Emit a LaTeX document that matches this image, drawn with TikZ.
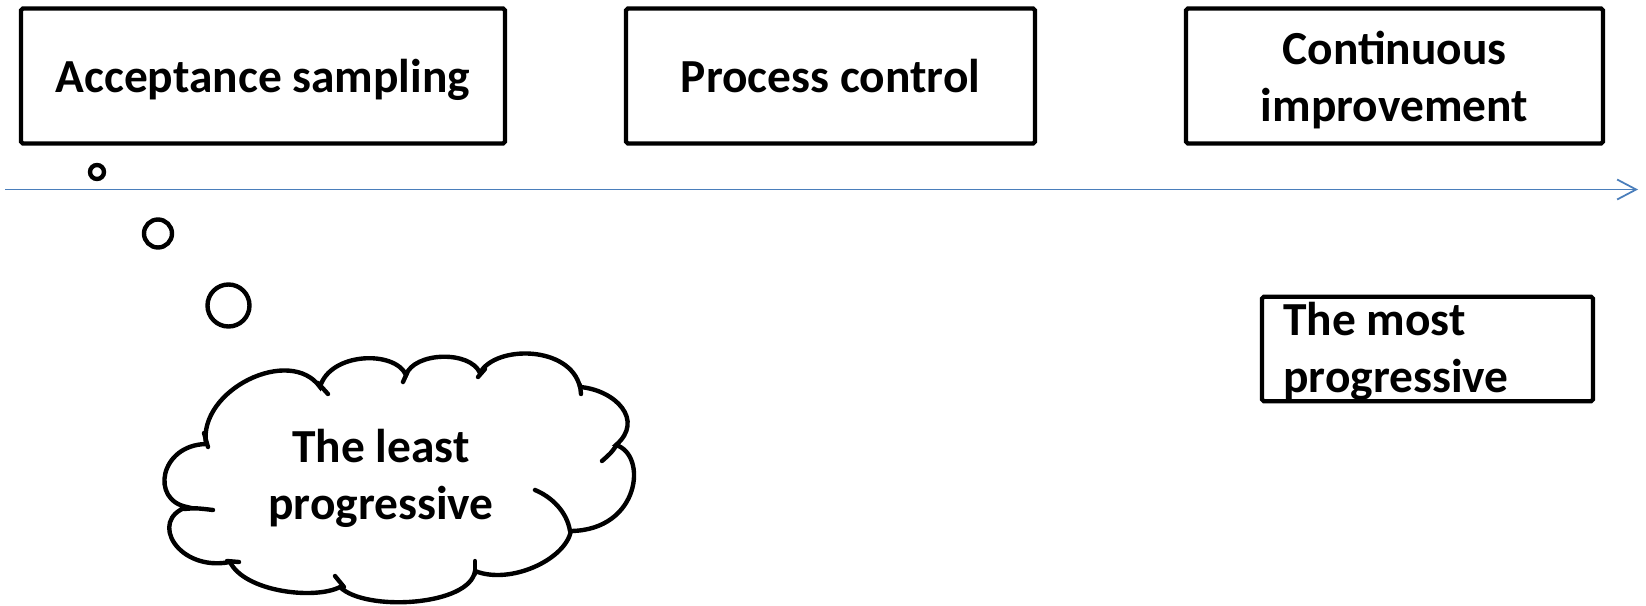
\documentclass[tikz,border=0pt]{standalone}
\usepackage{fontspec}
\setmainfont{Carlito}
\usepackage{tikz}
\usetikzlibrary{arrows.meta,positioning}
\definecolor{axisblue}{HTML}{4A7EBB}

\begin{document}
\begin{tikzpicture}[
  x=0.02cm,
  y=-0.02cm,
  font=\bfseries\fontsize{27}{32.4}\selectfont,
  >=Straight Barb,
  stage/.style={draw=black, line width=2.4pt, rounded corners=1pt,
    minimum height=2.70cm, align=center, inner sep=0pt, text depth=0pt},
  timeline/.style={-{Straight Barb[length=3.8mm,width=4mm]}, line width=1pt,
    draw=axisblue},
  bubble/.style={draw=black, line width=2.5pt},
  tick/.style={bubble, line cap=round}
]
\useasboundingbox (0,0) rectangle (1646,605);

% Stages along the time line.
\node[stage, minimum width=9.68cm] (accept) at (263,76) {Acceptance sampling};
\node[stage, minimum width=8.18cm] (process) at (830.5,76) {Process control};
\node[stage, minimum width=8.34cm] (improve) at (1394.5,76) {Continuous\\improvement};

\coordinate (tstart) at (5,189.5);
\coordinate (tend) at (1638,189.5);
\draw[timeline] (tstart) -- (tend);

% Thought bubble under the first stage.
\draw[bubble] (97,172) circle[radius=7];
\draw[bubble] (158,233.5) circle[radius=14];
\draw[bubble] (228.5,305.5) circle[radius=21];

\draw[bubble, fill=white]
  (206,444) .. controls (198,390) and (290,345) .. (320,387)
  .. controls (330,352) and (395,350) .. (406,375)
  .. controls (414,352) and (470,350) .. (480,373)
  .. controls (495,345) and (570,345) .. (580,387)
  .. controls (615,390) and (645,420) .. (616,445)
  .. controls (648,455) and (640,530) .. (571,531)
  .. controls (565,560) and (510,585) .. (475,571)
  .. controls (470,606) and (365,612) .. (340,587)
  .. controls (315,600) and (245,592) .. (230,562)
  .. controls (178,572) and (148,520) .. (187,507)
  .. controls (150,500) and (160,445) .. (206,444) -- cycle;
% inner strokes of the puffs
\draw[tick] (184,509) .. controls (196,508) .. (213,510);
\draw[tick] (204,433) -- (208,447);
\draw[tick] (318,383) -- (328,394);
\draw[tick] (407,373) -- (403,382);
\draw[tick] (485,369) -- (478,377);
\draw[tick] (580,385) -- (581,394);
\draw[tick] (616,446) .. controls (611,453) .. (602,461);
\draw[tick] (535,490) .. controls (552,497) and (567,512) .. (570,531);
\draw[tick] (475,561) -- (475,574);
\draw[tick] (335,576) -- (344,587);
\draw[tick] (227,561) -- (239,562);
\node[align=center, inner sep=0pt] (least) at (381,478) {The least\\progressive};

% Label on the right end.
\node[stage, minimum width=6.62cm, minimum height=2.09cm] (mostbox) at (1427.5,349) {};
\node[anchor=north west, align=left, inner sep=0pt] (most) at (1283,302)
  {The most\\progressive};

\end{tikzpicture}
\end{document}
